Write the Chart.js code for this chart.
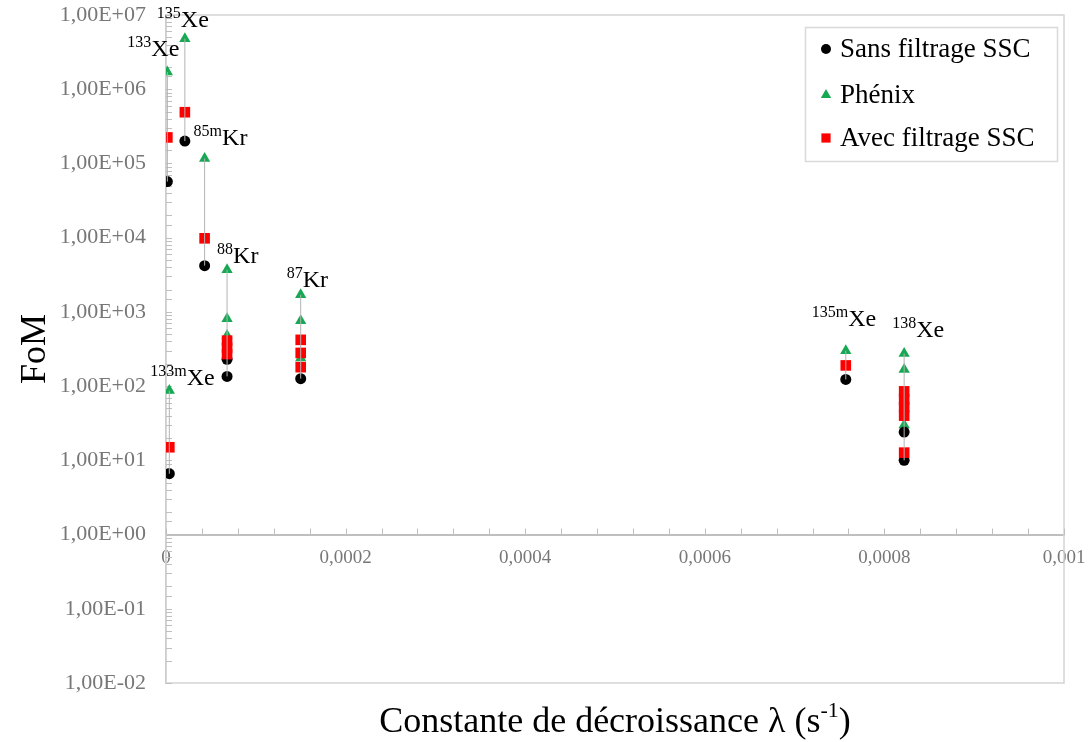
<!DOCTYPE html>
<html>
<head>
<meta charset="utf-8">
<script src="https://cdn.jsdelivr.net/npm/chart.js@4.4.1/dist/chart.umd.min.js"></script>
<style>
  html,body{margin:0;padding:0;background:#fff}
  #wrap{width:1089px;height:742px;position:relative}
</style>
</head>
<body>
<div id="wrap"><canvas id="c"></canvas></div>
<script>
// --- données ---
const nuclides=['133Xe','135Xe','85mKr','88Kr','87Kr','133mXe','135mXe','138Xe'];
const isoMass=['133','135','85m','88','87','133m','135m','138'];
const isoElem=['Xe','Xe','Kr','Kr','Kr','Xe','Xe','Xe'];
const lambdas=[1.5e-6,2.1e-5,4.3e-5,6.8e-5,1.5e-4,3.7e-6,7.57e-4,8.22e-4];   // s-1
const sansFiltrage=[[5.7e4],[2.0e5],[4.2e3],[230,135],[126],[6.6],[123],[24,10]];
const phenix=[[1.7e6],[4.8e6],[1.17e5],[3700,810,480],[1700,760,240],[87],[300],[275,167,30]];
const avecFiltrage=[[2.24e5],[4.9e5],[9.8e3],[410,330,270],[420,280,180],[15],[190],[85,66,52,40,12.7]];
const xMajorStep=0.0002, xMinorStep=0.00004;
const yMin=1e-2, yMax=1e7;

const SERIF="'Liberation Serif','Times New Roman',serif";
const GREY_TXT='#777777', AXIS='#bfbfbf';

function pts(series){
  const out=[];
  series.forEach((vals,i)=>vals.forEach(v=>out.push({x:lambdas[i],y:v})));
  return out;
}
function fmtE(v){
  const e=Math.round(Math.log10(v));
  return '1,00E'+(e<0?'-':'+')+String(Math.abs(e)).padStart(2,'0');
}

// traits verticaux reliant les points d'un même nucléide
const connectors=nuclides.map((n,i)=>{
  const all=[...sansFiltrage[i],...phenix[i],...avecFiltrage[i]];
  return {type:'line',label:'_'+n,data:[{x:lambdas[i],y:Math.min(...all)},{x:lambdas[i],y:Math.max(...all)}],
    borderColor:'#b3b3b3',borderWidth:1,pointRadius:0,order:0};
});

const seriesDefs=[
  {label:'Sans filtrage SSC',data:pts(sansFiltrage),pointStyle:'circle',pointRadius:5.5,
   backgroundColor:'#000',borderColor:'#000',borderWidth:0,order:2},
  {label:'Phénix',data:pts(phenix),pointStyle:'triangle',pointRadius:6.5,
   backgroundColor:'#16a852',borderColor:'#16a852',borderWidth:0,order:3},
  {label:'Avec filtrage SSC',data:pts(avecFiltrage),pointStyle:'rect',pointRadius:7.5,
   backgroundColor:'#ff0000',borderColor:'#ff0000',borderWidth:0,order:1},
];

// décalages (px) des étiquettes par rapport au point le plus haut
const labelOffsets=[[-40,-16],[-28,-12],[-11,-13],[-10,-7],[-14,-8],[-19,-6],[-34,-25],[-12,-17]];

const decor={
  id:'decor',
  beforeDatasetsDraw(chart){
    const {ctx,chartArea:a,scales:{x,y}}=chart;
    ctx.save();
    ctx.strokeStyle='#d4d4d4'; ctx.lineWidth=1.5;
    ctx.strokeRect(a.left,a.top,a.right-a.left,a.bottom-a.top);
    // petites graduations intérieures
    ctx.strokeStyle=AXIS; ctx.lineWidth=1;
    y.ticks.forEach(t=>{
      const yy=Math.round(y.getPixelForValue(t.value))+0.5;
      ctx.beginPath(); ctx.moveTo(a.left,yy); ctx.lineTo(a.left+6,yy); ctx.stroke();
    });
    const y1=y.getPixelForValue(1);
    x.ticks.forEach(t=>{
      const xx=Math.round(x.getPixelForValue(t.value))+0.5;
      ctx.beginPath(); ctx.moveTo(xx,y1); ctx.lineTo(xx,y1-6); ctx.stroke();
    });
    ctx.restore();
  },
  afterDraw(chart){
    const {ctx,chartArea:a,scales:{x,y}}=chart;
    ctx.save();
    // étiquettes des nucléides
    ctx.fillStyle='#000'; ctx.textBaseline='alphabetic'; ctx.textAlign='left';
    nuclides.forEach((n,i)=>{
      const top=Math.max(...phenix[i]);
      let px=x.getPixelForValue(lambdas[i])+labelOffsets[i][0];
      const py=y.getPixelForValue(top)+labelOffsets[i][1];
      ctx.font='16px '+SERIF;
      ctx.fillText(isoMass[i],px,py-9);
      px+=ctx.measureText(isoMass[i]).width;
      ctx.font='24px '+SERIF;
      ctx.fillText(isoElem[i],px,py);
    });
    // titres des axes
    ctx.font='36px '+SERIF;
    ctx.save(); ctx.translate(36,(a.top+a.bottom)/2); ctx.rotate(-Math.PI/2);
    ctx.textAlign='center'; ctx.textBaseline='middle'; ctx.fillText('FoM',0,0); ctx.restore();
    const t1='Constante de décroissance λ (s', sup='-1', t2=')';
    ctx.font='36px '+SERIF; const w1=ctx.measureText(t1).width, w3=ctx.measureText(t2).width;
    ctx.font='22px '+SERIF; const w2=ctx.measureText(sup).width;
    let sx=(a.left+a.right)/2-(w1+w2+w3)/2; const by=732;
    ctx.textAlign='left';
    ctx.font='36px '+SERIF; ctx.fillText(t1,sx,by); sx+=w1;
    ctx.font='22px '+SERIF; ctx.fillText(sup,sx,by-15); sx+=w2;
    ctx.font='36px '+SERIF; ctx.fillText(t2,sx,by);
    // légende
    const L={x:805.5,y:27.5,w:252,h:134};
    ctx.strokeStyle='#d9d9d9'; ctx.lineWidth=1.5; ctx.strokeRect(L.x,L.y,L.w,L.h);
    const rows=[49,95,138], sizes=[5,6,6.5];
    seriesDefs.forEach((d,i)=>{
      ctx.fillStyle=d.backgroundColor; ctx.strokeStyle=d.backgroundColor; ctx.lineWidth=0;
      Chart.helpers.drawPoint(ctx,{pointStyle:d.pointStyle,radius:sizes[i],borderWidth:0},826,rows[i]);
      ctx.fillStyle='#000'; ctx.font='27px '+SERIF; ctx.textBaseline='middle';
      ctx.fillText(d.label,840,rows[i]+1);
    });
    ctx.restore();
  }
};

new Chart(document.getElementById('c'),{
  type:'scatter',
  data:{datasets:[...connectors,...seriesDefs]},
  options:{
    responsive:true,maintainAspectRatio:false,animation:false,events:[],
    layout:{padding:{top:15,right:25,bottom:59,left:0}},
    plugins:{legend:{display:false},tooltip:{enabled:false}},
    scales:{
      x:{type:'linear',min:0,max:0.001,position:{y:1},
        grid:{drawOnChartArea:false,drawTicks:false},
        border:{display:true,color:AXIS,width:2},
        afterFit:s=>{s.height=0; s.paddingLeft=0; s.paddingRight=0;},
        ticks:{stepSize:xMinorStep,autoSkip:false,maxRotation:0,padding:12,color:GREY_TXT,
          font:{family:SERIF,size:19},
          callback:v=>{
            const k=v/xMajorStep;
            if(Math.abs(k-Math.round(k))>1e-6) return '';
            return v===0?'0':String(Number(v.toFixed(4))).replace('.',',');
          }}},
      y:{type:'logarithmic',min:yMin,max:yMax,
        grid:{drawOnChartArea:false,drawTicks:false},
        border:{display:true,color:AXIS,width:1.5},
        afterFit:s=>{s.width=166; s.paddingTop=0; s.paddingBottom=0;},
        ticks:{autoSkip:false,padding:20,color:GREY_TXT,font:{family:SERIF,size:22},
          callback:v=>{
            const l=Math.log10(v);
            return Math.abs(l-Math.round(l))<1e-9?fmtE(v):'';
          }}}
    }
  },
  plugins:[decor]
});
</script>
</body>
</html>
